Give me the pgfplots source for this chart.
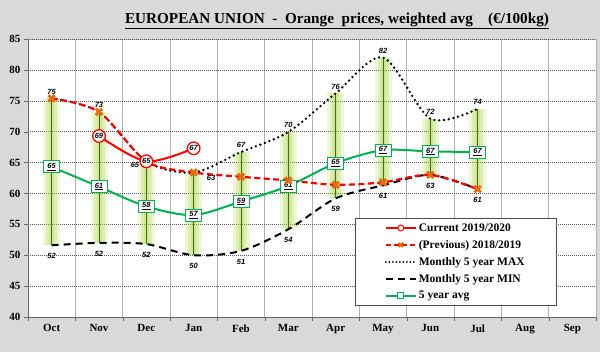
\documentclass[border=0pt]{standalone}
\usepackage{pgfplots}
\usepackage{pgfplotstable}
\pgfplotsset{compat=1.18}
\usepackage{fontspec}
\setmainfont{Liberation Serif}
\newfontfamily\lsans{Liberation Sans}
\definecolor{bg}{HTML}{D9D9D9}
\definecolor{cred}{HTML}{FF0000}
\definecolor{xorange}{HTML}{E46C0A}
\definecolor{avggreen}{HTML}{00B050}
\definecolor{glow}{HTML}{B0D84E}
\definecolor{olive}{HTML}{4F6228}

\pgfplotstableread{
x y
0 51.6
0 75.4
0 nan
1 52.0
1 73.2
1 nan
2 51.8
2 65.2
2 nan
3 50.0
3 63.4
3 nan
4 50.7
4 66.7
4 nan
5 54.2
5 69.95
5 nan
6 59.2
6 76.2
6 nan
7 61.3
7 82.0
7 nan
8 63.0
8 72.1
8 nan
9 60.7
9 73.7
}\rangetab

\begin{document}
\begin{tikzpicture}
\fill[bg] (-28pt,-35pt) rectangle (572pt,317pt);
\begin{axis}[
  at={(0pt,0pt)}, anchor=south west,
  scale only axis, width=568pt, height=278pt,
  xmin=-0.5, xmax=11.5, ymin=40, ymax=85,
  xtick={0,...,11},
  xticklabels={Oct,Nov,Dec,Jan,Feb,Mar,Apr,May,Jun,Jul,Aug,Sep},
  minor xtick={-0.5,0.5,...,11.5},
  ytick={40,45,...,85},
  axis lines=left, axis line style={black!60, -},
  axis background/.style={fill=white, draw=black!25},
  xminorgrids, ymajorgrids,
  minor x grid style={black!30, line width=0.8pt},
  major y grid style={black!65, dash pattern=on 1pt off 1pt},
  major x tick style={draw=none},
  tick align=outside, major tick length=4pt, minor tick length=4pt,
  minor x tick style={black!60}, major y tick style={black!60},
  tick label style={font=\bfseries\fontsize{11}{12}\selectfont},
  /pgf/number format/assume math mode=true,
  unbounded coords=jump,
  clip=false,
  title={\underline{EUROPEAN UNION\ \ -\ \ Orange\ \ prices, weighted avg\ \ \ \ (€/100kg)}},
  title style={at={(0.544,1.043)}, anchor=center, font=\bfseries\fontsize{15.2}{17}\selectfont},
  legend style={at={(0.931,0.041)}, anchor=south east, draw=black!70, fill=white,
    font=\bfseries\fontsize{11.5}{13}\selectfont, inner xsep=30pt, inner ysep=3pt,
    row sep=3.6pt},
  legend cell align=left,
  legend image code/.code={\draw[mark repeat=2,mark phase=2,#1] plot coordinates {(0pt,0pt)(15pt,0pt)(30pt,0pt)};},
  lab/.style={nodes near coords, point meta=explicit symbolic,
    every node near coord/.append style={font=\lsans\bfseries\itshape\fontsize{7.5}{8}\selectfont, inner sep=1pt, text=black}},
]
% legend
\addlegendimage{cred, line width=2pt, mark=*, mark size=3pt, mark options={fill=white, draw=cred, line width=1pt}}
\addlegendentry{Current 2019/2020}
\addlegendimage{cred, line width=2pt, dash pattern=on 5pt off 3pt, mark=x, mark size=3pt, mark options={xorange, line width=2pt, solid}}
\addlegendentry{(Previous) 2018/2019}
\addlegendimage{black, line width=2pt, line cap=round, dash pattern=on 0pt off 3.5pt}
\addlegendentry{Monthly 5 year MAX}
\addlegendimage{black, line width=2pt, dash pattern=on 7pt off 5pt}
\addlegendentry{Monthly 5 year MIN}
\addlegendimage{avggreen, line width=2pt, mark=square*, mark size=3pt, mark options={fill=white, draw=avggreen, line width=0.8pt}}
\addlegendentry{5 year avg}

% range glow
\addplot[forget plot, glow, opacity=0.2, line width=17pt, line cap=butt] table {\rangetab};
\addplot[forget plot, glow, opacity=0.28, line width=11pt, line cap=butt] table {\rangetab};
\addplot[forget plot, glow, opacity=0.35, line width=5pt, line cap=butt] table {\rangetab};
\addplot[forget plot, olive, line width=1pt] table {\rangetab};

% 5 year max
\addplot[forget plot, smooth, black, line width=2.6pt, line cap=round, dash pattern=on 0pt off 4.8pt] coordinates {
(0,75.4) (1,73.2) (2,65.2) (3,63.4) (4,66.7) (5,69.95) (6,76.2) (7,82.0) (8,72.1) (9,73.7)};
\addplot[forget plot, draw=none, lab, every node near coord/.append style={anchor=south, yshift=3pt}] coordinates {
(0,75.4)[75] (1,73.2)[73] (4,66.7)[67] (5,69.95)[70] (6,76.2)[76] (7,82.0)[82] (8,72.1)[72] (9,73.7)[74]};
\addplot[forget plot, draw=none, lab, every node near coord/.append style={anchor=east, xshift=-6pt, yshift=-4pt}] coordinates {
(2,65.2)[65]};
\addplot[forget plot, draw=none, lab, every node near coord/.append style={anchor=west, xshift=12pt, yshift=-5pt}] coordinates {
(3,63.4)[63]};

% 5 year min
\addplot[forget plot, smooth, black, line width=2pt, dash pattern=on 7pt off 5pt, lab,
  every node near coord/.append style={anchor=north, yshift=-6pt}] coordinates {
(0,51.6)[52] (1,52.0)[52] (2,51.8)[52] (3,50.0)[50] (4,50.7)[51] (5,54.2)[54] (6,59.2)[59] (7,61.3)[61] (8,63.0)[63] (9,60.7)[61]};

% 5 year avg
\addplot[forget plot, smooth, avggreen, line width=2pt, lab,
  nodes near coords={\underline{\pgfplotspointmeta}},
  every node near coord/.append style={anchor=center, draw=avggreen, fill=white, line width=0.8pt, minimum width=16pt, minimum height=12pt}] coordinates {
(0,64.3)[65] (1,61.1)[61] (2,57.9)[58] (3,56.5)[57] (4,58.7)[59] (5,61.2)[61] (6,64.9)[65] (7,67.0)[67] (8,66.8)[67] (9,66.7)[67]};

% previous
\addplot[forget plot, smooth, cred, line width=2.2pt, dash pattern=on 6pt off 3.5pt, mark=x, mark size=4.5pt,
  mark options={xorange, line width=2.8pt, solid}] coordinates {
(0,75.4) (1,73.2) (2,65.2) (3,63.4) (4,62.7) (5,62.1) (6,61.4) (7,61.8) (8,63.0) (9,60.7)};

% current
\addplot[forget plot, smooth, cred, line width=2pt, mark=*, mark size=6.3pt,
  mark options={fill=white, draw=cred, line width=1.3pt}, lab,
  every node near coord/.append style={anchor=center}] coordinates {
(1,69.3)[69] (2,65.2)[65] (3,67.3)[67]};
\end{axis}
\end{tikzpicture}
\end{document}
